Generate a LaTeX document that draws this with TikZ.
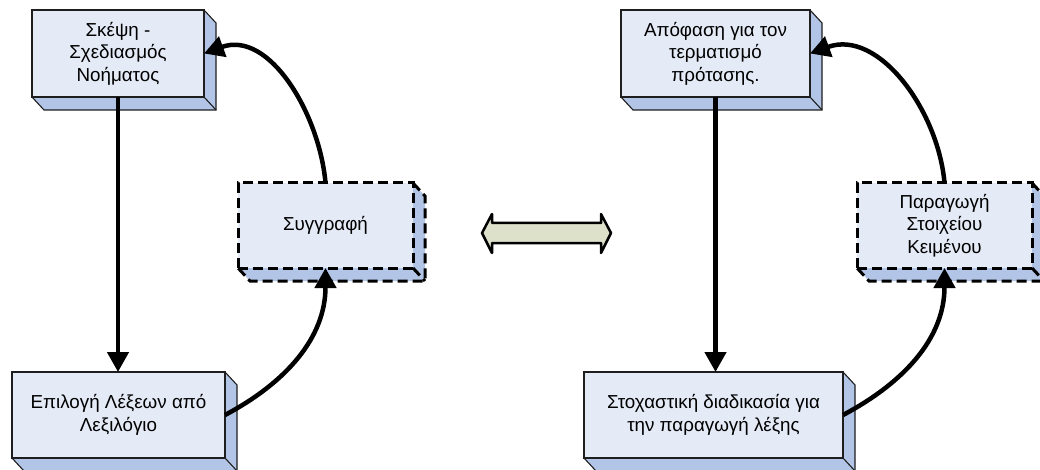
\documentclass[tikz,border=0pt]{standalone}
\usepackage{fontspec}
\setmainfont{Liberation Sans}
\usetikzlibrary{arrows.meta,backgrounds}

\definecolor{frontfill}{HTML}{E4EAF6}
\definecolor{sidefill}{HTML}{B2C5E6}
\definecolor{edgecol}{HTML}{1E1E1E}
\definecolor{swapfill}{HTML}{DDE1CA}

\tikzset{
  block/.style={draw=edgecol, line width=1.1pt, fill=frontfill, inner sep=0pt,
    outer sep=0pt, align=center, font=\fontsize{18.8}{22.5}\selectfont},
  solidedge/.style={draw=edgecol, line width=1.1pt},
  dashblock/.style={block, draw=black, line width=3pt, dash pattern=on 10pt off 5pt},
  dashedge/.style={draw=black, line width=3pt, dash pattern=on 10pt off 5pt},
  flow/.style={line width=4.5pt, -{Triangle[length=20pt,width=21pt]}},
}

% side and bottom faces of an extruded block
\newcommand\extrudeblock[2]{%
  \fill[sidefill] (#1.north east) -- ++(12,-13) -- ([shift={(12,-13)}]#1.south east)
    -- ([shift={(12,-13)}]#1.south west) -- (#1.south west) -- (#1.south east) -- cycle;
  \draw[#2] (#1.north east) -- ++(12,-13) -- ([shift={(12,-13)}]#1.south east)
    -- ([shift={(12,-13)}]#1.south west) -- (#1.south west);
  \draw[#2] (#1.south east) -- ++(12,-13);
}

\begin{document}
\begin{tikzpicture}[x=1pt,y=1pt]
\clip (0,0) rectangle (1040,-470);

% left cycle
\node[block, minimum width=172pt, minimum height=87pt] (think) at (118,-53.5)
  {Σκέψη -\\Σχεδιασμός\\Νοήματος};
\node[dashblock, minimum width=175pt, minimum height=85pt] (write) at (325.5,-225.5)
  {Συγγραφή};
\node[block, minimum width=213pt, minimum height=86pt] (choose) at (118.5,-415)
  {Επιλογή Λέξεων από\\Λεξιλόγιο};

% right cycle
\node[block, minimum width=189pt, minimum height=87pt] (decide) at (715.5,-53.5)
  {Απόφαση για τον\\τερματισμό\\πρότασης.};
\node[dashblock, minimum width=175pt, minimum height=85pt] (produce) at (944.5,-225.5)
  {Παραγωγή\\Στοιχείου\\Κειμένου};
\node[block, minimum width=259pt, minimum height=86pt] (sample) at (713.5,-415)
  {Στοχαστική διαδικασία για\\την παραγωγή λέξης};

\begin{scope}[on background layer]
  \fill[white] (0,0) rectangle (1040,-470);
  \extrudeblock{think}{solidedge}
  \extrudeblock{choose}{solidedge}
  \extrudeblock{decide}{solidedge}
  \extrudeblock{sample}{solidedge}
  \extrudeblock{write}{dashedge}
  \extrudeblock{produce}{dashedge}
\end{scope}

% connectors
\draw[flow] (think.south) -- (think.south |- choose.north);
\draw[flow] (choose.east) to[out=28, in=-90] (write.south);
\draw[flow] (write.north) to[out=95, in=20] (think.east);

\draw[flow] (decide.south) -- (decide.south |- sample.north);
\draw[flow] (sample.east) to[out=28, in=-90] (produce.south);
\draw[flow] (produce.north) to[out=95, in=20] (decide.east);

% two-way correspondence arrow
\draw[line width=2.5pt, line join=round, fill=swapfill]
  (482,-233) -- (492,-214) -- (492,-223) -- (601,-223) -- (601,-214) -- (611,-233)
  -- (601,-253) -- (601,-243) -- (492,-243) -- (492,-253) -- cycle;
\end{tikzpicture}
\end{document}
